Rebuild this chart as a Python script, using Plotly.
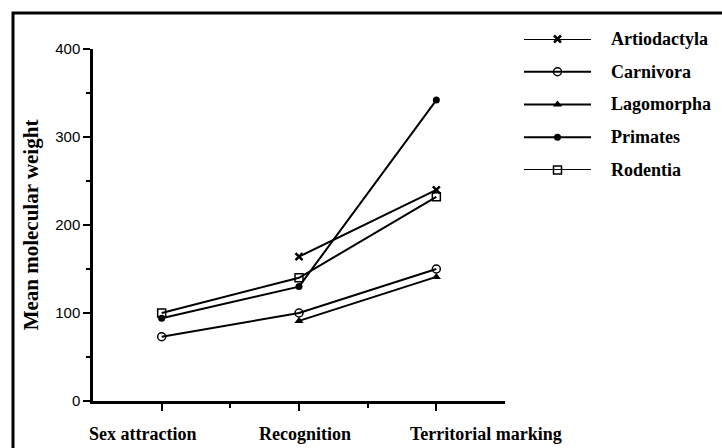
import plotly.graph_objects as go

# Data: mean molecular weight of scent compounds by function and mammalian order
functions = ["Sex attraction", "Recognition", "Territorial marking"]
orders = ["Artiodactyla", "Carnivora", "Lagomorpha", "Primates", "Rodentia"]
artiodactyla = [None, 164, 240]
carnivora = [73, 100, 150]
lagomorpha = [None, 91, 141]
primates = [94, 130, 342]
rodentia = [100, 140, 232]
y_ticks = [0, 100, 200, 300, 400]

series = {
    "Artiodactyla": (artiodactyla, dict(symbol="x-thin", size=7, line=dict(width=2.5, color="black"), color="black")),
    "Carnivora": (carnivora, dict(symbol="circle-open", size=8, line=dict(width=1.5, color="black"), color="black")),
    "Lagomorpha": (lagomorpha, dict(symbol="triangle-up", size=8, color="black")),
    "Primates": (primates, dict(symbol="circle", size=7, color="black")),
    "Rodentia": (rodentia, dict(symbol="square-open", size=8, line=dict(width=1.5, color="black"), color="black")),
}

W, H = 722, 448
L, R, T, B = 93, 505, 49, 401
serif = "Liberation Serif, Times New Roman, serif"

fig = go.Figure()
xpos = [0.5, 1.5, 2.5]
for name in orders:
    vals, mk = series[name]
    xs = [x for x, v in zip(xpos, vals) if v is not None]
    ys = [v for v in vals if v is not None]
    fig.add_trace(go.Scatter(x=xs, y=ys, mode="lines+markers", name=name,
                             line=dict(color="black", width=2), marker=mk,
                             showlegend=False, cliponaxis=False))

# Category labels under the x axis, set slightly off their ticks
label_shift = [-19, 6, 50]
for x, f, dx in zip(xpos, functions, label_shift):
    fig.add_annotation(x=x, y=0, xref="x", yref="y", text=f"<b>{f}</b>", showarrow=False,
                       xanchor="center", yanchor="middle", xshift=dx, yshift=-33,
                       font=dict(family=serif, size=18, color="black"))

# Legend samples drawn on their own small axis
for i, name in enumerate(orders):
    vals, mk = series[name]
    fig.add_trace(go.Scatter(x=[0, 1, 2], y=[i, i, i], mode="lines", xaxis="x2", yaxis="y2",
                             line=dict(color="black", width=2), showlegend=False, hoverinfo="skip"))
    fig.add_trace(go.Scatter(x=[1], y=[i], mode="markers", xaxis="x2", yaxis="y2",
                             marker=mk, showlegend=False, hoverinfo="skip", cliponaxis=False))
    fig.add_annotation(x=2, y=i, xref="x2", yref="y2", text=f"<b>{name}</b>", showarrow=False,
                       xanchor="left", xshift=18,
                       font=dict(family=serif, size=18, color="black"))

fig.update_layout(
    width=W, height=H,
    margin=dict(l=0, r=0, t=0, b=0, autoexpand=False),
    paper_bgcolor="white", plot_bgcolor="white",
    xaxis=dict(domain=[L / W, R / W], range=[0, 3], tickvals=xpos, showticklabels=False,
               ticks="outside", ticklen=7, tickwidth=2, tickcolor="black",
               showline=True, linecolor="black", linewidth=2.5, showgrid=False, zeroline=False,
               automargin=False,
               minor=dict(tickvals=[1, 2], ticks="outside", ticklen=4, tickwidth=2,
                          tickcolor="black")),
    yaxis=dict(domain=[1 - B / H, 1 - T / H], range=[0, 400], tickvals=y_ticks,
               ticks="outside", ticklen=7, tickwidth=2,
               tickcolor="black", showline=True, linecolor="black", linewidth=2.5,
               showgrid=False, zeroline=False, automargin=False,
               minor=dict(tickvals=[50, 150, 250, 350], ticks="outside", ticklen=4,
                          tickwidth=2, tickcolor="black"),
               tickfont=dict(family="Liberation Sans, Arial, sans-serif", size=15, color="black"),
               title=dict(text="<b>Mean molecular weight</b>", standoff=11,
                          font=dict(family=serif, size=21, color="black"))),
    xaxis2=dict(domain=[524 / W, 591 / W], range=[0, 2], anchor="y2",
                visible=False, fixedrange=True),
    yaxis2=dict(domain=[1 - 170 / H, 1 - 39 / H], range=[4, 0], anchor="x2",
                visible=False, fixedrange=True),
)

# Frame around the figure
fig.add_shape(type="rect", xref="paper", yref="paper",
              x0=13 / W, x1=740 / W, y0=-0.1, y1=1 - 13 / H,
              line=dict(color="black", width=3))

fig.write_html("out.html")
